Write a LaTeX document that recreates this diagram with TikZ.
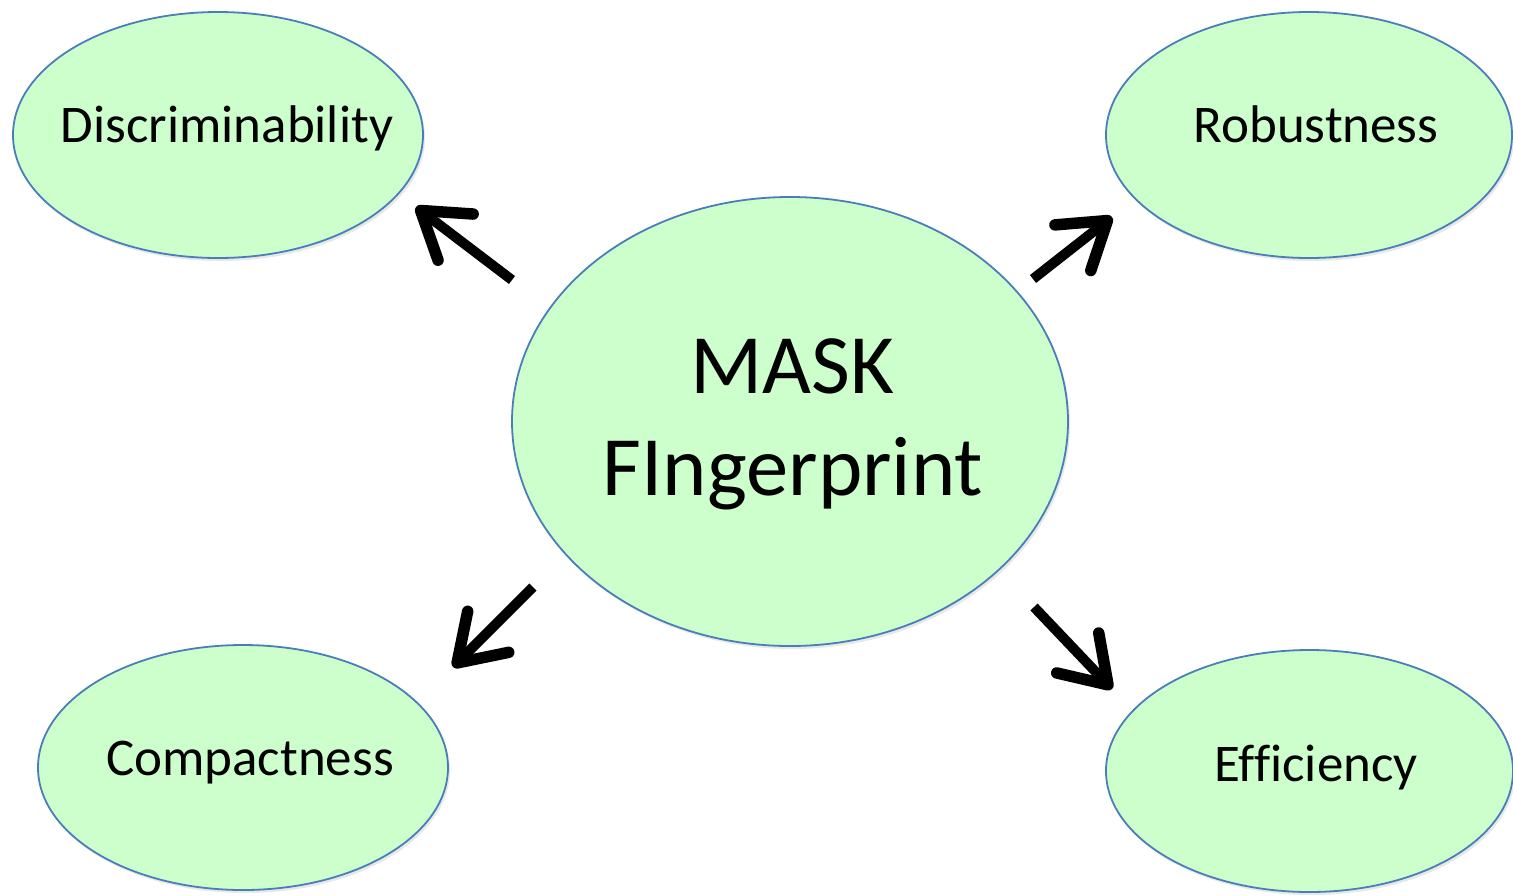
\documentclass[tikz,border=0pt]{standalone}
\usepackage{fontspec}
\setmainfont{Carlito}[Ligatures={NoCommon}]
\usetikzlibrary{shapes.geometric,arrows.meta,shadows}

\definecolor{bubblefill}{HTML}{CCFFCC}
\definecolor{bubbleline}{HTML}{4A7EBB}

\tikzset{
  bubble/.style={ellipse, draw=bubbleline, fill=bubblefill, line width=1.8pt,
    inner sep=0pt, drop shadow={opacity=0.18, shadow xshift=2pt, shadow yshift=-3pt}},
  small label/.style={anchor=base, inner sep=0pt, font=\fontsize{53}{64}\selectfont},
  big label/.style={anchor=base, inner sep=0pt, font=\fontsize{84.5}{100}\selectfont},
  pointer/.style={line width=10pt, line cap=butt,
    -{Straight Barb[length=44pt, width=58pt, line width=11.5pt, line cap=round, line join=round]}},
}

\begin{document}
\begin{tikzpicture}[x=1pt, y=-1pt]
  \useasboundingbox (0,0) rectangle (1513,895);

  % central concept and its four properties
  \node[bubble, minimum width=556pt, minimum height=449pt] (mask) at (790,421.5) {};
  \node[bubble, minimum width=410pt, minimum height=246pt] (disc) at (218,135) {};
  \node[bubble, minimum width=406pt, minimum height=246pt] (robu) at (1309,135) {};
  \node[bubble, minimum width=410pt, minimum height=245pt] (comp) at (243,767.5) {};
  \node[bubble, minimum width=407pt, minimum height=242pt] (effi) at (1309.5,771) {};

  % labels
  \node[big label] (maskA) at (792,393) {MASK};
  \node[big label] (maskB) at (793,495) {FIngerprint};
  \node[small label] (discT) at (227,142) {Discriminability};
  \node[small label] (robuT) at (1316,142) {Robustness};
  \node[small label] (compT) at (250,775) {Compactness};
  \node[small label] (effiT) at (1316,781) {Efficiency};

  % arrow end points
  \coordinate (nwS) at (512,280);
  \coordinate (nwE) at (416,207);
  \coordinate (neS) at (1033,279);
  \coordinate (neE) at (1112,217);
  \coordinate (swS) at (533,587);
  \coordinate (swE) at (453,667);
  \coordinate (seS) at (1034,607);
  \coordinate (seE) at (1112,689);

  \draw[pointer] (nwS) -- (nwE);
  \draw[pointer] (neS) -- (neE);
  \draw[pointer] (swS) -- (swE);
  \draw[pointer] (seS) -- (seE);
\end{tikzpicture}
\end{document}
